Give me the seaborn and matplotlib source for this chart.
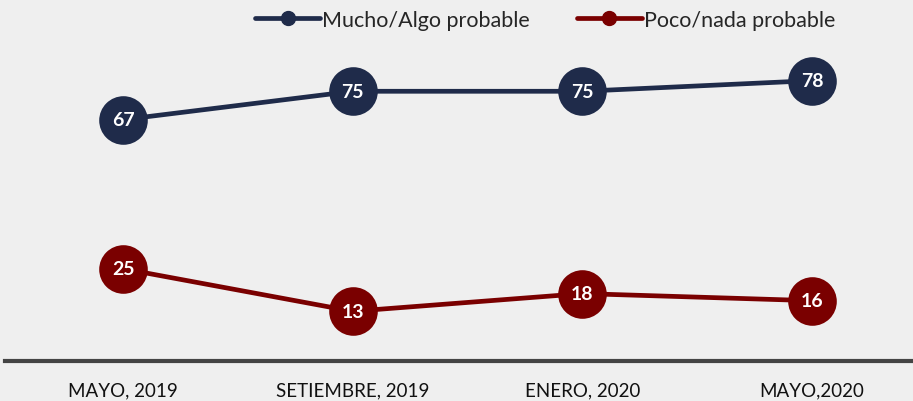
import matplotlib
matplotlib.use("Agg")
import matplotlib.pyplot as plt
import pandas as pd
import seaborn as sns

# Data
periods = ["MAYO, 2019", "SETIEMBRE, 2019", "ENERO, 2020", "MAYO,2020"]
mucho_algo = [67, 75, 75, 78]
poco_nada = [25, 13, 18, 16]
series_names = ["Mucho/Algo probable", "Poco/nada probable"]
colors = ["#1f2b4a", "#7a0000"]

df = pd.DataFrame({
    "periodo": periods * 2,
    "x": list(range(len(periods))) * 2,
    "valor": mucho_algo + poco_nada,
    "serie": [series_names[0]] * 4 + [series_names[1]] * 4,
})

sns.set_theme(style="white")
plt.rcParams["font.family"] = ["Lato", "DejaVu Sans"]
bg = "#efefef"

fig = plt.figure(figsize=(9.13, 4.02), dpi=100, facecolor=bg)
ax = fig.add_axes([5 / 913, 40 / 402, 908 / 913, 362 / 402])
ax.set_facecolor(bg)

sns.lineplot(data=df, x="x", y="valor", hue="serie", palette=colors,
             marker="o", markersize=35, linewidth=3.4, markeredgewidth=0,
             ax=ax, legend=False)

for name, col in zip(series_names, colors):
    sub = df[df["serie"] == name]
    for xv, yv in zip(sub["x"], sub["valor"]):
        ax.text(xv, yv, str(yv), ha="center", va="center", color="white",
                fontsize=14, fontweight="bold")

# legend
handles = [plt.Line2D([0], [0], color=c, linewidth=3.4, marker="o", markersize=10)
           for c in colors]
ax.legend(handles, series_names, loc="upper center", bbox_to_anchor=(0.595, 1.0),
          ncol=2, frameon=False, fontsize=15.5, handlelength=3.0,
          handletextpad=0.1, columnspacing=2.2, borderaxespad=0.1)

ax.set_xlim(-0.514, 3.44)
ax.set_ylim(-1, 101)
ax.set_xticks(range(len(periods)))
ax.set_xticklabels(periods, fontsize=13.5, color="#111111")
ax.tick_params(axis="x", length=0, pad=15)
ax.set_yticks([])
ax.set_xlabel("")
ax.set_ylabel("")
for s in ["top", "right", "left"]:
    ax.spines[s].set_visible(False)
ax.spines["bottom"].set_color("#444444")
ax.spines["bottom"].set_linewidth(3)

fig.savefig("out.png", dpi=100, facecolor=bg)
